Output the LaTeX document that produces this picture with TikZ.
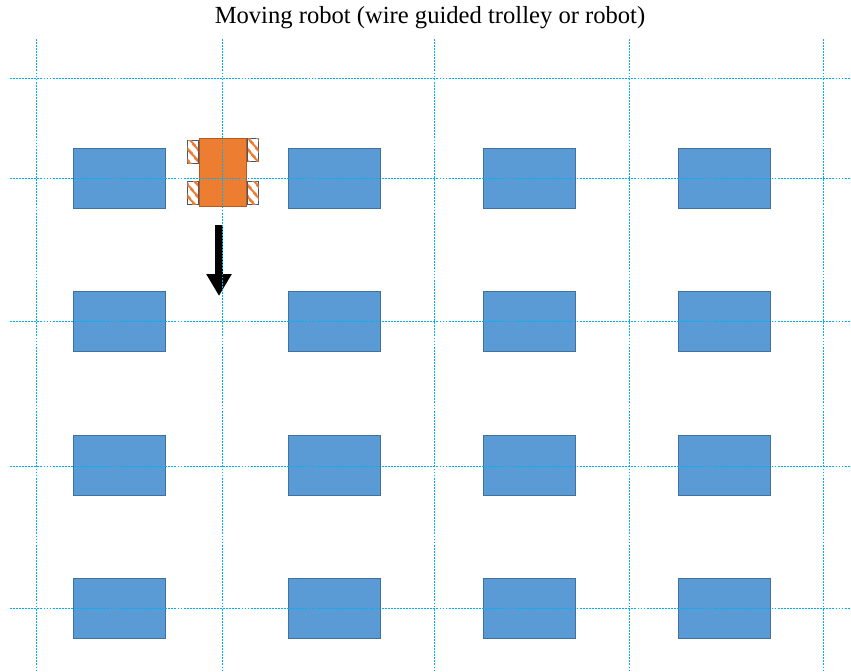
\documentclass[tikz,border=0pt]{standalone}
\usepackage{fontspec}
\setmainfont{Liberation Serif}
\usetikzlibrary{arrows.meta,positioning,patterns.meta}
\definecolor{shelfblue}{RGB}{91,155,213}
\definecolor{shelfedge}{RGB}{65,113,156}
\definecolor{robo}{RGB}{237,125,49}
\definecolor{roboedge}{RGB}{180,90,30}
\definecolor{wire}{RGB}{0,176,240}
\definecolor{wheeledge}{RGB}{68,84,106}
\tikzset{
  shelf/.style={draw=shelfedge, fill=shelfblue, line width=0.7pt,
                minimum width=2.76cm, minimum height=1.8cm, inner sep=0pt},
  rob/.style={draw=roboedge, fill=robo, line width=0.7pt,
              minimum width=1.41cm, minimum height=2.04cm, inner sep=0pt},
  whl/.style={draw=wheeledge, line width=0.9pt, fill=white,
              postaction={pattern={Lines[angle=-50,distance=6.5pt,line width=2.4pt]}, pattern color=robo},
              minimum width=0.32cm, minimum height=0.69cm, inner sep=0pt},
  gline/.style={wire, line width=0.6pt, dash pattern=on 1.6pt off 1pt},
  mvarr/.style={-{Triangle[width=0.72cm, length=0.66cm]}, line width=0.22cm, black},
  ttl/.style={font=\fontsize{21}{24}\selectfont},
}

\begin{document}
\begin{tikzpicture}[x=0.03cm, y=-0.03cm]
    \useasboundingbox (0,0) rectangle (851,671);
    \node[ttl] (title) at (430,18) {Moving robot (wire guided trolley or robot)};
    % shelves
    \foreach \c/\x in {1/119,2/334,3/529,4/724}
      \foreach \r/\y in {1/178,2/321,3/465,4/608}
        \node[shelf] (s\r\c) at (\x,\y) {};
    % robot with wheels
    \node[rob] (rob) at (222.5,172.5) {};
    \node[whl, anchor=north east] (wlt) at ([yshift=-0.06cm]rob.north west) {};
    \node[whl, anchor=south east] (wlb) at ([yshift=0.06cm]rob.south west) {};
    \node[whl, anchor=north west] (wrt) at ([xshift=0.03cm]rob.north east) {};
    \node[whl, anchor=south west] (wrb) at ([xshift=0.03cm,yshift=0.06cm]rob.south east) {};
    % direction of travel
    \coordinate (mvs) at (219,225);
    \coordinate (mve) at (219,296);
    \draw[mvarr] (mvs) -- (mve);
    % guide wires
    \foreach \x in {36,222,434,629,823}
      \draw[gline] (\x,39) -- (\x,671);
    \foreach \y in {78,178,321,466,608}
      \draw[gline] (10,\y) -- (851,\y);
\end{tikzpicture}
\end{document}
